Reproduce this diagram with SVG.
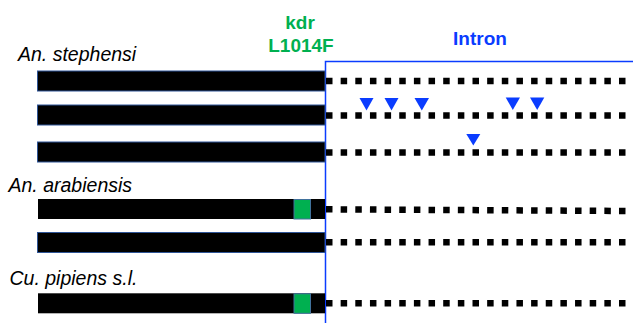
<svg xmlns="http://www.w3.org/2000/svg" width="633" height="323" viewBox="0 0 633 323">
<style>
.sp{font-family:"Liberation Sans",Arial,sans-serif;font-style:italic;font-size:19.5px;fill:#000}
.kdr{font-family:"Liberation Sans",Arial,sans-serif;font-weight:bold;font-size:19px;fill:#00B050;text-anchor:middle}
.intr{font-family:"Liberation Sans",Arial,sans-serif;font-weight:bold;font-size:19px;fill:#0A3CFF;text-anchor:middle}
.bar{fill:#000;stroke:#2F5597;stroke-width:1}
.barn{fill:#000}
.dots{stroke:#000;stroke-width:6.5;stroke-dasharray:6.5 8.15;fill:none}
.mut{fill:#00B050;stroke:#41719C;stroke-width:1}
.tri{fill:#0A3CFF}
.frame{fill:none;stroke:#0A3CFF;stroke-width:1.5}
</style>
<rect width="633" height="323" fill="#fff"/>
<g id="labels">
<text class="sp" x="18" y="60.5">An. stephensi</text>
<text class="sp" x="8.5" y="192">An. arabiensis</text>
<text class="sp" x="9.5" y="285">Cu. pipiens s.l.</text>
<text class="kdr" x="300" y="29">kdr</text>
<text class="kdr" x="301" y="51.5">L1014F</text>
<text class="intr" x="480" y="45">Intron</text>
</g>
<g id="connectors">
<polyline class="frame" points="325.5,323 325.5,61.5 633,61.5"/>
</g>
<g id="row1">
<rect class="bar" x="37.5" y="71" width="287.5" height="20"/>
<line class="dots" x1="326" y1="81" x2="628" y2="81"/>
</g>
<g id="row2">
<rect class="bar" x="37.5" y="105" width="287.5" height="20"/>
<line class="dots" x1="326" y1="115.5" x2="628" y2="115.5"/>
<g id="row2-marks">
<polygon class="tri" points="359.5,98 373.5,98 366.5,110.5"/>
<polygon class="tri" points="384.5,98 398.5,98 391.5,110.5"/>
<polygon class="tri" points="414.5,98 429,98 421.8,110.5"/>
<polygon class="tri" points="505.7,97.5 520,97.5 512.8,110"/>
<polygon class="tri" points="530,97.5 544.3,97.5 537.2,110"/>
</g>
</g>
<g id="row3">
<rect class="bar" x="37.5" y="142" width="287.5" height="20"/>
<line class="dots" x1="326" y1="152.5" x2="628" y2="152.5"/>
<polygon class="tri" points="466.3,134 480.3,134 473.3,145.5"/>
</g>
<g id="row4">
<rect class="barn" x="38" y="199" width="287" height="20"/>
<rect class="mut" x="294" y="199.5" width="16.5" height="19.5"/>
<line class="dots" x1="326" y1="209.3" x2="628" y2="211"/>
</g>
<g id="row5">
<rect class="bar" x="37.5" y="232.5" width="287.5" height="20"/>
<line class="dots" x1="326" y1="242.3" x2="628" y2="242.3"/>
</g>
<g id="row6">
<rect class="barn" x="38" y="293.3" width="287" height="20"/>
<rect class="mut" x="294" y="293.8" width="16.5" height="19.5"/>
<line class="dots" x1="326" y1="303.3" x2="628" y2="303.3"/>
</g>
</svg>
